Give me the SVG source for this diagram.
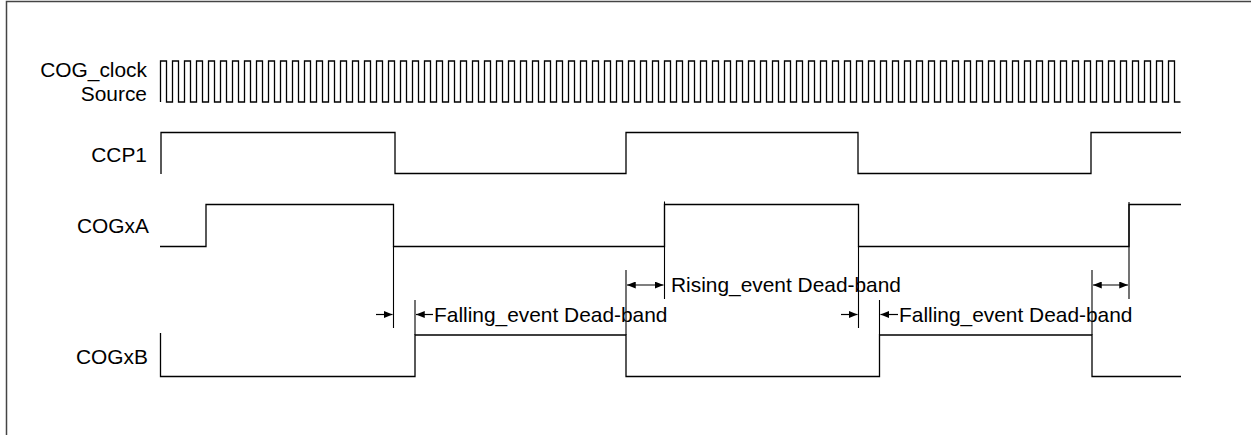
<svg xmlns="http://www.w3.org/2000/svg" width="1251" height="435" viewBox="0 0 1251 435">
<style>
.sig{fill:none;stroke:#000;stroke-width:1.3}
.ext{fill:none;stroke:#000;stroke-width:1.1}
.dim{fill:none;stroke:#000;stroke-width:1.2}
.lbl{font-family:"Liberation Sans",Arial,sans-serif;font-size:20.9px;fill:#000}
.r{text-anchor:end}
</style>
<defs>
<marker id="ah" viewBox="0 0 10 8" refX="10" refY="4" markerWidth="9" markerHeight="7" markerUnits="userSpaceOnUse" orient="auto-start-reverse">
<path d="M0,0L10,4L0,8z" fill="#000"/>
</marker>
</defs>
<rect width="1251" height="435" fill="#fff"/>
<path d="M6.5,435V1.5H1251" fill="none" stroke="#444" stroke-width="1.5"/>
<g id="label-cogclock">
<text class="lbl r" x="147" y="77">COG_clock</text>
<text class="lbl r" x="147" y="101">Source</text>
</g>
<g id="signal-cogclock">
<path class="sig" d="M160.5,102
v-41h6v41h6v-41h6v41h6v-41h6v41h6v-41h6v41h6v-41h6v41h6
v-41h6v41h6v-41h6v41h6v-41h6v41h6v-41h6v41h6v-41h6v41h6
v-41h6v41h6v-41h6v41h6v-41h6v41h6v-41h6v41h6v-41h6v41h6
v-41h6v41h6v-41h6v41h6v-41h6v41h6v-41h6v41h6v-41h6v41h6
v-41h6v41h6v-41h6v41h6v-41h6v41h6v-41h6v41h6v-41h6v41h6
v-41h6v41h6v-41h6v41h6v-41h6v41h6v-41h6v41h6v-41h6v41h6
v-41h6v41h6v-41h6v41h6v-41h6v41h6v-41h6v41h6v-41h6v41h6
v-41h6v41h6v-41h6v41h6v-41h6v41h6v-41h6v41h6v-41h6v41h6
v-41h6v41h6v-41h6v41h6v-41h6v41h6v-41h6v41h6v-41h6v41h6
v-41h6v41h6v-41h6v41h6v-41h6v41h6v-41h6v41h6v-41h6v41h6
v-41h6v41h6v-41h6v41h6v-41h6v41h6v-41h6v41h6v-41h6v41h6
v-41h6v41h6v-41h6v41h6v-41h6v41h6v-41h6v41h6v-41h6v41h6
v-41h6v41h6v-41h6v41h6v-41h6v41h6v-41h6v41h6v-41h6v41h6
v-41h6v41h6v-41h6v41h6v-41h6v41h6v-41h6v41h6v-41h6v41h6
v-41h6v41h6v-41h6v41h6v-41h6v41h6v-41h6v41h6v-41h6v41h6
v-41h6v41h6v-41h6v41h6v-41h6v41h6v-41h6v41h6v-41h6v41h6
v-41h6v41h6v-41h6v41h6v-41h6v41h6v-41h6v41h6v-41h6v41h6"/>
</g>
<g id="label-ccp1"><text class="lbl r" x="147" y="162">CCP1</text></g>
<g id="signal-ccp1">
<path class="sig" d="M161,174V132.5H395V173.5H626V132.5H858V173.5H1091V132.5H1181"/>
</g>
<g id="label-cogxa"><text class="lbl r" x="149" y="233">COGxA</text></g>
<g id="signal-cogxa">
<path class="sig" d="M160,246.5H206V204.5H393.5V246.5H664.5V204.5H858.5V246.5H1129V204.5H1181"/>
</g>
<g id="label-cogxb"><text class="lbl r" x="148" y="364">COGxB</text></g>
<g id="signal-cogxb">
<path class="sig" d="M160.5,333V376.5H415V335H626V376.5H879.5V335H1092V376.5H1181"/>
</g>
<g id="connectors">
<path class="ext" d="M393.5,246V328M415,300V335M626,270V335M664.5,201.5V299M858.5,246V328M879.5,300V335M1092,270V335M1129,202V299"/>
<line class="dim" x1="376" y1="314.5" x2="392.5" y2="314.5" marker-end="url(#ah)"/>
<line class="dim" x1="433" y1="314.5" x2="416" y2="314.5" marker-end="url(#ah)"/>
<line class="dim" x1="627" y1="285" x2="663.5" y2="285" marker-start="url(#ah)" marker-end="url(#ah)"/>
<line class="dim" x1="841" y1="314.5" x2="857.5" y2="314.5" marker-end="url(#ah)"/>
<line class="dim" x1="898" y1="314.5" x2="880.5" y2="314.5" marker-end="url(#ah)"/>
<line class="dim" x1="1093" y1="285" x2="1128" y2="285" marker-start="url(#ah)" marker-end="url(#ah)"/>
</g>
<g id="label-falling-1"><text class="lbl" x="434" y="321.5">Falling_event Dead-band</text></g>
<g id="label-rising-1"><text class="lbl" x="671" y="292">Rising_event Dead-band</text></g>
<g id="label-falling-2"><text class="lbl" x="899" y="321.5">Falling_event Dead-band</text></g>
</svg>
